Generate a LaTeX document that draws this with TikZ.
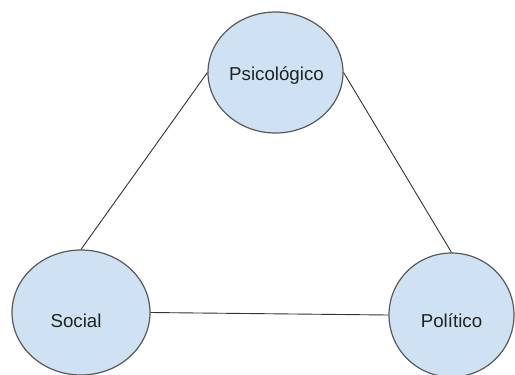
\documentclass[tikz,border=0pt]{standalone}
\usepackage{fontspec}
\setmainfont{Liberation Sans}
\usetikzlibrary{shapes.geometric}
\definecolor{fillblue}{HTML}{CFE2F3}
\definecolor{edgegray}{HTML}{595959}
\definecolor{textgray}{HTML}{222222}
\begin{document}
\begin{tikzpicture}[x=1pt,y=-1pt,
  bubble/.style={ellipse, draw=edgegray, line width=1.2pt, fill=fillblue, inner sep=0pt},
  caption/.style={anchor=base, inner sep=0pt, text=textgray, font=\fontsize{18.7}{22}\selectfont},
  link/.style={draw=black!80, line width=0.9pt}]
\useasboundingbox (0,0) rectangle (515,375);
\begin{scope}
\clip (0,0) rectangle (515,375);
\node[bubble, minimum width=135pt, minimum height=121pt] (psi) at (275.5,72.5) {};
\node[bubble, minimum width=138pt, minimum height=125pt] (soc) at (81,312.5) {};
\node[bubble, minimum width=125pt, minimum height=124pt] (pol) at (451.5,315) {};
\node[caption] (psiT) at (276.5,80) {Psicológico};
\node[caption] (socT) at (76,327) {Social};
\node[caption] (polT) at (451.5,327) {Político};
\draw[link] (psi.west) -- (soc.north);
\draw[link] (psi.east) -- (pol.north);
\draw[link] (soc.east) -- (pol.west);
\end{scope}
\end{tikzpicture}
\end{document}
